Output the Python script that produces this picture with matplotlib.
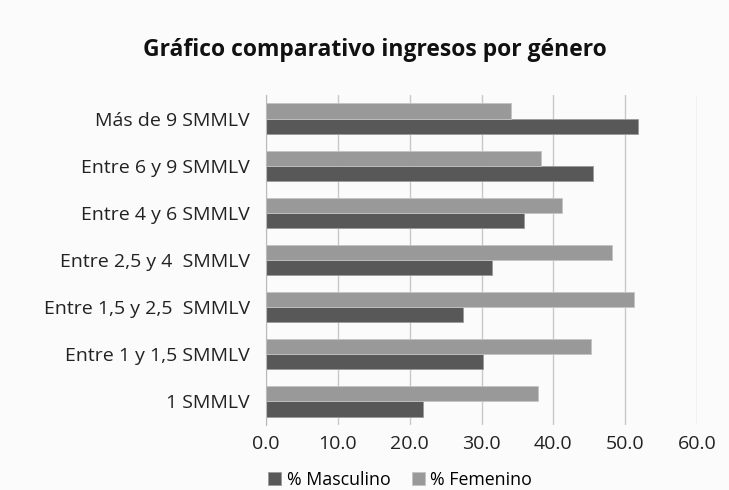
import matplotlib
matplotlib.use("Agg")
import matplotlib.pyplot as plt
import numpy as np

plt.rcParams['font.family'] = ['Open Sans', 'DejaVu Sans']

categories = ["1 SMMLV", "Entre 1 y 1,5 SMMLV", "Entre 1,5 y 2,5  SMMLV",
              "Entre 2,5 y 4  SMMLV", "Entre 4 y 6 SMMLV", "Entre 6 y 9 SMMLV",
              "Más de 9 SMMLV"]
masculino = [21.8, 30.2, 27.4, 31.5, 35.9, 45.5, 51.8]
femenino = [37.9, 45.3, 51.2, 48.2, 41.2, 38.3, 34.1]
xticks = [0, 10, 20, 30, 40, 50, 60]

fig = plt.figure(figsize=(7.29, 4.90), dpi=100)
fig.patch.set_facecolor('#fbfbfb')
ax = fig.add_axes([266/729, 1-425/490, (697-266)/729, 330/490])
ax.set_facecolor('#fbfbfb')

y = np.arange(len(categories))
h = 0.32
ax.barh(y - h/2, masculino, height=h, color='#585858', edgecolor='#9a9a9a', linewidth=0.6,
        label='% Masculino', zorder=3)
ax.barh(y + h/2, femenino, height=h, color='#999999', edgecolor='#c4c4c4', linewidth=0.6,
        label='% Femenino', zorder=3)

ax.set_xlim(0, 60)
ax.set_ylim(-0.5, len(categories) - 0.5)
ax.set_xticks(xticks)
ax.set_xticklabels([f"{v:.1f}" for v in xticks], fontsize=14, color='#222222')
ax.set_yticks(y)
ax.set_yticklabels(categories, fontsize=14, color='#222222')
ax.tick_params(axis='y', length=0, pad=11.5)
ax.tick_params(axis='x', length=0, pad=7)
ax.xaxis.grid(True, color='#c8c8c8', linewidth=1, zorder=0)
for s in ['top', 'right', 'bottom']:
    ax.spines[s].set_visible(False)
ax.spines['left'].set_color('#bbbbbb')
ax.spines['left'].set_zorder(4)

fig.text(375/729, 1-50/490, "Gráfico comparativo ingresos por género", ha='center', va='center',
         fontsize=16.5, fontweight='bold', color='#111111')

leg = fig.legend(loc='center', bbox_to_anchor=(400/729, 1-480/490), ncol=2, frameon=False,
                 fontsize=12.8, handlelength=0.75, handleheight=0.75, columnspacing=1.2,
                 handletextpad=0.3)

fig.savefig("out.png", dpi=100, facecolor=fig.get_facecolor())
